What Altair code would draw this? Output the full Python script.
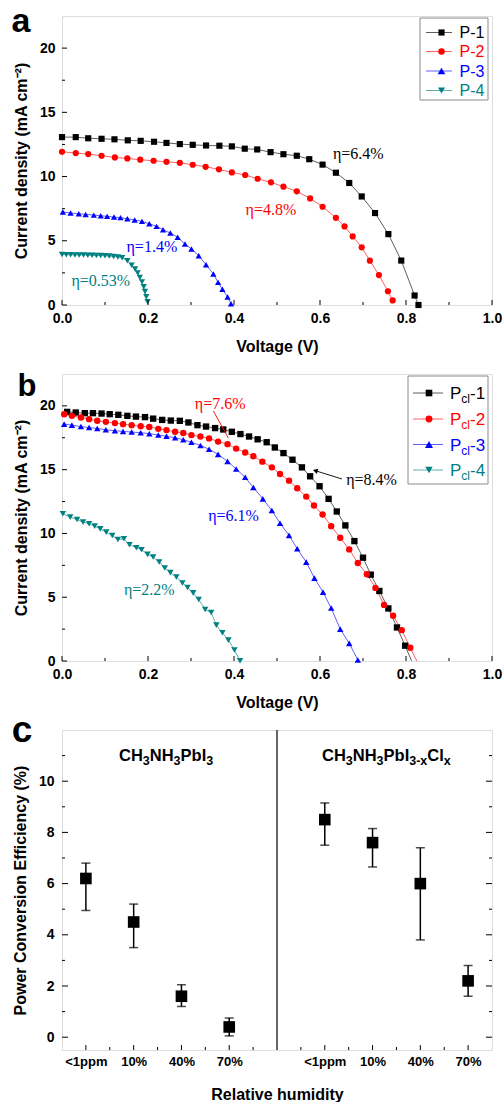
import altair as alt
import pandas as pd

SANS = "Liberation Sans"
SERIF = "Liberation Serif"

# ---------------- data: panel a ----------------
A_NAMES = ["P-1", "P-2", "P-3", "P-4"]
P1_V = [0, 0.032, 0.061, 0.092, 0.122, 0.153, 0.183, 0.214, 0.243, 0.274, 0.304, 0.335, 0.366, 0.395,
        0.425, 0.454, 0.485, 0.515, 0.546, 0.575, 0.606, 0.637, 0.668, 0.697, 0.728, 0.759, 0.789, 0.82, 0.829]
P1_J = [13.07, 13.07, 12.98, 12.94, 12.9, 12.82, 12.78, 12.71, 12.62, 12.53, 12.47, 12.42, 12.4, 12.35,
        12.17, 12.11, 11.9, 11.74, 11.62, 11.35, 10.93, 10.3, 9.5, 8.45, 7.16, 5.52, 3.46, 0.74, 0.0]
P2_V = [0, 0.032, 0.061, 0.092, 0.123, 0.152, 0.182, 0.213, 0.243, 0.274, 0.304, 0.334, 0.365, 0.395,
        0.426, 0.455, 0.486, 0.515, 0.546, 0.577, 0.606, 0.637, 0.657, 0.676, 0.697, 0.716, 0.737, 0.758, 0.769]
P2_J = [11.93, 11.83, 11.75, 11.62, 11.49, 11.41, 11.31, 11.23, 11.15, 11.07, 10.92, 10.76, 10.56, 10.32,
        10.12, 9.83, 9.55, 9.21, 8.85, 8.30, 7.65, 6.79, 6.12, 5.34, 4.49, 3.45, 2.33, 1.07, 0.36]
P3_V = [0.002, 0.020, 0.039, 0.055, 0.074, 0.090, 0.105, 0.121, 0.136, 0.152, 0.169, 0.186, 0.203,
        0.220, 0.235, 0.252, 0.269, 0.286, 0.301, 0.318, 0.335, 0.352, 0.363, 0.373, 0.385, 0.393]
P3_J = [7.24, 7.16, 7.11, 7.05, 7.0, 6.95, 6.9, 6.85, 6.8, 6.72, 6.62, 6.51, 6.33,
        6.12, 5.86, 5.6, 5.27, 4.75, 4.36, 3.84, 3.14, 2.41, 1.76, 1.22, 0.62, 0.1]
P4_V = [0, 0.01, 0.02, 0.03, 0.04, 0.05, 0.06, 0.07, 0.08, 0.09, 0.10, 0.11, 0.12, 0.13, 0.14,
        0.152, 0.162, 0.170, 0.176, 0.181, 0.186, 0.190, 0.193, 0.196, 0.199]
P4_J = [3.93, 3.92, 3.91, 3.9, 3.9, 3.89, 3.88, 3.87, 3.86, 3.85, 3.83, 3.81, 3.78, 3.74, 3.68,
        3.45, 3.1, 2.8, 2.5, 2.15, 1.8, 1.42, 1.05, 0.65, 0.25]
A_ETA = ["η=6.4%", "η=4.8%", "η=1.4%", "η=0.53%"]
A_ETA_V = [0.63, 0.427, 0.15, 0.022]
A_ETA_J = [11.77, 7.42, 4.5, 1.84]

# ---------------- data: panel b ----------------
B_NAMES = ["Pcl-1", "Pcl-2", "Pcl-3", "Pcl-4"]
B_LABEL_NUM = ["-1", "-2", "-3", "-4"]
C1_V = [0.012, 0.032, 0.053, 0.072, 0.092, 0.111, 0.131, 0.152, 0.172, 0.193, 0.212, 0.233, 0.253, 0.274,
        0.294, 0.315, 0.335, 0.356, 0.375, 0.395, 0.415, 0.435, 0.455, 0.476, 0.495, 0.515, 0.536, 0.558,
        0.577, 0.599, 0.620, 0.639, 0.659, 0.680, 0.700, 0.718, 0.738, 0.759, 0.779, 0.798, 0.813]
C1_J = [19.53, 19.48, 19.43, 19.43, 19.40, 19.35, 19.30, 19.22, 19.16, 19.12, 19.00, 18.90, 18.85, 18.83,
        18.70, 18.49, 18.38, 18.26, 18.15, 17.97, 17.79, 17.60, 17.38, 17.15, 16.74, 16.30, 15.78, 15.18,
        14.48, 13.70, 12.71, 11.72, 10.63, 9.40, 8.10, 6.77, 5.49, 4.12, 2.63, 1.20, 0.0]
C2_V = [0.005, 0.023, 0.044, 0.063, 0.082, 0.102, 0.123, 0.142, 0.162, 0.183, 0.203, 0.224, 0.243, 0.263,
        0.282, 0.301, 0.322, 0.342, 0.363, 0.385, 0.405, 0.426, 0.445, 0.466, 0.488, 0.507, 0.528, 0.547,
        0.568, 0.586, 0.606, 0.626, 0.647, 0.668, 0.688, 0.709, 0.729, 0.749, 0.770, 0.790, 0.810, 0.825]
C2_J = [19.35, 19.22, 19.09, 18.96, 18.83, 18.75, 18.65, 18.57, 18.49, 18.40, 18.35, 18.20, 18.10, 17.97,
        17.87, 17.71, 17.60, 17.45, 17.20, 17.00, 16.65, 16.35, 16.05, 15.63, 15.18, 14.66, 14.14, 13.54,
        12.89, 12.19, 11.48, 10.57, 9.66, 8.75, 7.68, 6.80, 5.73, 4.40, 3.55, 2.42, 1.04, 0.0]
C3_V = [0.005, 0.023, 0.044, 0.063, 0.082, 0.102, 0.123, 0.142, 0.162, 0.183, 0.203, 0.224, 0.243, 0.263,
        0.282, 0.301, 0.322, 0.342, 0.363, 0.385, 0.405, 0.426, 0.445, 0.467, 0.488, 0.507, 0.528, 0.547,
        0.568, 0.587, 0.607, 0.626, 0.647, 0.668, 0.688]
C3_J = [18.57, 18.49, 18.38, 18.30, 18.23, 18.13, 18.05, 18.00, 17.95, 17.90, 17.82, 17.72, 17.62, 17.50,
        17.35, 17.15, 16.90, 16.60, 16.20, 15.65, 15.05, 14.40, 13.60, 12.71, 11.80, 10.80, 9.85, 8.80,
        7.75, 6.50, 5.40, 4.15, 2.50, 1.38, 0.08]
C4_V = [0.002, 0.019, 0.035, 0.049, 0.063, 0.076, 0.089, 0.103, 0.117, 0.130, 0.144, 0.157, 0.173, 0.185,
        0.199, 0.212, 0.226, 0.239, 0.252, 0.266, 0.280, 0.292, 0.305, 0.318, 0.333, 0.347, 0.359, 0.373,
        0.387, 0.401, 0.414]
C4_J = [11.54, 11.28, 11.09, 10.89, 10.76, 10.57, 10.36, 10.10, 9.84, 9.53, 9.58, 9.11, 8.88, 8.72,
        8.36, 8.15, 7.76, 7.29, 6.93, 6.59, 6.12, 5.76, 5.34, 4.82, 4.04, 3.80, 2.81, 2.21, 1.64, 0.86, 0.02]
B_ETA = ["η=8.4%", "η=7.6%", "η=6.1%", "η=2.2%"]
B_ETA_V = [0.661, 0.309, 0.34, 0.144]
B_ETA_J = [14.22, 20.13, 11.4, 5.6]
# pointer lines (label -> curve)
B_PTR_V = [0.651, 0.352]
B_PTR_J = [14.27, 19.6]
B_PTR_V2 = [0.589, 0.387]
B_PTR_J2 = [14.92, 17.47]
B_PTR_COL = ["#000000", "#ff0000"]

# ---------------- data: panel c ----------------
HUMIDITY = ["<1ppm", "10%", "40%", "70%"]
PCE_I = [6.2, 4.5, 1.6, 0.4]
LO_I = [4.95, 3.5, 1.2, 0.05]
HI_I = [6.8, 5.2, 2.05, 0.75]
PCE_CL = [8.5, 7.6, 6.0, 2.2]
LO_CL = [7.5, 6.65, 3.8, 1.6]
HI_CL = [9.15, 8.15, 7.4, 2.8]

COLORS = ["#000000", "#ff0000", "#0000ff", "#008080"]
SHAPES = ["square", "circle", "triangle-up", "triangle-down"]
A_SIZES = [38, 42, 60, 50]
B_SIZES = [44, 48, 64, 54]

# ---------------- layout constants ----------------
W = 430
HA, HB, HC = 289, 287, 320
DUMMY = pd.DataFrame({"d": [0]})

W_REG = {"P": .667, "c": .5, "l": .222, "-": .333, "1": .556, "2": .556, "3": .556, "4": .556}
W_BOLD = {"C": .722, "H": .722, "N": .722, "P": .667, "b": .611, "I": .278, "l": .278, "x": .556,
          "3": .556, "-": .333}


def tw(s, fs, bold):
    tab = W_BOLD if bold else W_REG
    return sum(tab.get(ch, 0.55) for ch in s) * fs


def text_runs(runs, x0, y0, fs, sfs, color, bold, shift):
    out = []
    x = x0
    for txt, sub in runs:
        size = sfs if sub else fs
        out.append(alt.Chart(DUMMY).mark_text(
            text=txt, font=SANS, fontSize=size, fontWeight="bold" if bold else "normal",
            color=color, align="left", baseline="alphabetic").encode(
            x=alt.value(x), y=alt.value(y0 + (shift if sub else 0))))
        x += tw(txt, size, bold)
    return out


def letter(ch, x, y, fs):
    return alt.Chart(DUMMY).mark_text(text=ch, font=SANS, fontSize=fs, fontWeight="bold",
                                      color="black", align="center", baseline="alphabetic").encode(
        x=alt.value(x), y=alt.value(y))


def xticks(vals, length, field, scale, axis, H):
    return alt.Chart(pd.DataFrame({field: vals})).mark_rule(color="black", strokeWidth=1).encode(
        x=alt.X(f"{field}:Q", scale=scale, axis=axis), y=alt.value(H), y2=alt.value(H - length))


def yticks(vals, length, field, scale, axis, x0, direction):
    return alt.Chart(pd.DataFrame({field: vals})).mark_rule(color="black", strokeWidth=1).encode(
        y=alt.Y(f"{field}:Q", scale=scale, axis=axis), x=alt.value(x0), x2=alt.value(x0 + direction * length))


AX_COMMON = dict(ticks=False, domain=False, grid=False, labelFont=SANS, labelFontWeight="bold",
                 labelColor="black", labelFlush=False, labelOverlap=False, titleFont=SANS,
                 titleFontSize=16, titleFontWeight="bold", titleColor="black")


def series_df(names, vs, js):
    rows = []
    for n, v, j in zip(names, vs, js):
        for a, b in zip(v, j):
            rows.append({"series": n, "v": a, "j": b})
    return pd.DataFrame(rows)


XS = alt.Scale(domain=[0, 1], nice=False, zero=False)
YS = alt.Scale(domain=[0, 22.5], nice=False, zero=False)
XAX = alt.Axis(title="Voltage (V)", values=[0, 0.2, 0.4, 0.6, 0.8, 1.0], format=".1f",
               labelFontSize=14, labelPadding=6, titlePadding=13, **AX_COMMON)
YAX = alt.Axis(title="Current density (mA cm⁻²)", values=[0, 5, 10, 15, 20], format="d",
               labelFontSize=14, labelPadding=7, titlePadding=10, **AX_COMMON)


def jv_panel(names, vs, js, sizes, H, eta, eta_v, eta_j, legend_layers, letter_layer,
             hide_zero_points=False, extra=()):
    df = series_df(names, vs, js)
    col = alt.Color("series:N", scale=alt.Scale(domain=names, range=COLORS), legend=None)
    X = alt.X("v:Q", scale=XS, axis=XAX)
    Y = alt.Y("j:Q", scale=YS, axis=YAX)
    lines = alt.Chart(df).mark_line(strokeWidth=0.9, opacity=0.7).encode(
        x=X, y=Y, color=col, detail="series:N")
    pts_base = alt.Chart(df)
    if hide_zero_points:
        pts_base = pts_base.transform_filter("datum.j > 0")
    pts = pts_base.mark_point(filled=True, opacity=1, strokeWidth=0).encode(
        x=X, y=Y, color=col,
        shape=alt.Shape("series:N", scale=alt.Scale(domain=names, range=SHAPES), legend=None),
        size=alt.Size("series:N", scale=alt.Scale(domain=names, range=sizes), legend=None))
    edf = pd.DataFrame({"t": eta, "v": eta_v, "j": eta_j, "c": COLORS})
    etas = alt.Chart(edf).mark_text(font=SERIF, fontSize=16, align="left", baseline="middle").encode(
        x=X, y=Y, text="t:N", color=alt.Color("c:N", scale=None))
    tk = [xticks([0, 0.2, 0.4, 0.6, 0.8, 1.0], 5, "v", XS, XAX, H),
          xticks([0.1, 0.3, 0.5, 0.7, 0.9], 3, "v", XS, XAX, H),
          yticks([0, 5, 10, 15, 20], 5, "j", YS, YAX, 0, 1),
          yticks([2.5, 7.5, 12.5, 17.5], 3, "j", YS, YAX, 0, 1)]
    ex = [e(X, Y) for e in extra]
    return alt.layer(lines, pts, etas, *ex, *tk, *legend_layers, letter_layer).properties(width=W, height=H)


def legend(box, rows_y, line_x, mark_x, text_x, label_runs, sizes, fs, sfs):
    x1, x2, y1, y2 = box
    out = [alt.Chart(DUMMY).mark_rect(fill="white", stroke="#8a8a8a", strokeWidth=1).encode(
        x=alt.value(x1), x2=alt.value(x2), y=alt.value(y1), y2=alt.value(y2))]
    for i, runs in enumerate(label_runs):
        y = rows_y[i]
        out.append(alt.Chart(DUMMY).mark_rule(color=COLORS[i], strokeWidth=0.9, opacity=0.7).encode(
            x=alt.value(line_x[0]), x2=alt.value(line_x[1]), y=alt.value(y)))
        out.append(alt.Chart(DUMMY).mark_point(shape=SHAPES[i], filled=True, opacity=1, strokeWidth=0,
                                               color=COLORS[i], size=sizes[i]).encode(
            x=alt.value(mark_x), y=alt.value(y)))
        out += text_runs(runs, text_x, y + fs * 0.36, fs, sfs, COLORS[i], False, 4)
    return out


# ---------------- panel a ----------------
leg_a = legend((358, 426, 2, 84), [16.5, 35.5, 55, 74.5], (364, 390), 379.5, 397.5,
               [[(n, False)] for n in A_NAMES], A_SIZES, 16, 12)
panel_a = jv_panel(A_NAMES, [P1_V, P2_V, P3_V, P4_V], [P1_J, P2_J, P3_J, P4_J], A_SIZES, HA,
                   A_ETA, A_ETA_V, A_ETA_J, leg_a, letter("a", -41, 16, 34))


# ---------------- panel b ----------------
def pointers(X, Y):
    pdf = pd.DataFrame({"v": B_PTR_V, "j": B_PTR_J, "v2": B_PTR_V2, "j2": B_PTR_J2, "c": B_PTR_COL})
    return alt.Chart(pdf).mark_rule(strokeWidth=0.9).encode(
        x=X, y=Y, x2="v2:Q", y2="j2:Q", color=alt.Color("c:N", scale=None))


def arrowhead(X, Y):
    adf = pd.DataFrame({"v": B_PTR_V2[:1], "j": B_PTR_J2[:1]})
    return alt.Chart(adf).mark_point(shape="triangle-up", filled=True, color="black", size=30,
                                     angle=285, opacity=1, strokeWidth=0).encode(x=X, y=Y)


leg_b = legend((346, 426, 2, 110), [19, 45, 70.5, 96], (351, 381), 367, 388,
               [[("P", False), ("cl", True), (n, False)] for n in B_LABEL_NUM], B_SIZES, 17, 12)
panel_b = jv_panel(B_NAMES, [C1_V, C2_V, C3_V, C4_V], [C1_J, C2_J, C3_J, C4_J], B_SIZES, HB,
                   B_ETA, B_ETA_V, B_ETA_J, leg_b, letter("b", -35, 22, 31),
                   hide_zero_points=True, extra=(pointers, arrowhead))

# ---------------- panel c ----------------
n = len(HUMIDITY)
xpos_i = [i + 0.5 for i in range(n)]
xpos_cl = [i + n + 1.5 for i in range(n)]
divider = n + 0.5
xc = alt.Scale(domain=[0, 2 * n + 1], nice=False, zero=False)
yc = alt.Scale(domain=[-0.5, 12], nice=False, zero=False)
cdf = pd.DataFrame({"x": xpos_i + xpos_cl, "pce": PCE_I + PCE_CL, "lo": LO_I + LO_CL, "hi": HI_I + HI_CL})

hum_js = "[" + ",".join("'" + h + "'" for h in HUMIDITY) + "]"
CXA = alt.Axis(title="Relative humidity", values=xpos_i + xpos_cl,
               labelExpr=f"{hum_js}[floor(datum.value) % {n + 1}]",
               labelFontSize=13, labelPadding=5, titlePadding=18, **AX_COMMON)
CYA = alt.Axis(title="Power Conversion Efficiency (%)", values=[0, 2, 4, 6, 8, 10], format="d",
               labelFontSize=14, labelPadding=8, titlePadding=10, **AX_COMMON)
CX = alt.X("x:Q", scale=xc, axis=CXA)

stems = alt.Chart(cdf).mark_rule(color="black", strokeWidth=1.5).encode(
    x=CX, y=alt.Y("lo:Q", scale=yc, axis=CYA), y2="hi:Q")
caps_lo = alt.Chart(cdf).mark_tick(color="black", orient="horizontal", size=9, thickness=1.5).encode(
    x=CX, y=alt.Y("lo:Q", scale=yc, axis=CYA))
caps_hi = alt.Chart(cdf).mark_tick(color="black", orient="horizontal", size=9, thickness=1.5).encode(
    x=CX, y=alt.Y("hi:Q", scale=yc, axis=CYA))
squares = alt.Chart(cdf).mark_point(shape="square", filled=True, color="black", size=135, opacity=1,
                                    strokeWidth=0).encode(
    x=CX, y=alt.Y("pce:Q", scale=yc, axis=CYA))
div_rule = alt.Chart(DUMMY).transform_calculate(x=str(divider)).mark_rule(
    color="#333333", strokeWidth=1.5).encode(x=CX, y=alt.value(0), y2=alt.value(HC))

major_x = xpos_i + xpos_cl
minor_x = [i + 1.0 for i in range(n)] + [i + n + 1.0 for i in range(n)]
tk_c = [xticks(major_x, 5, "x", xc, CXA, HC), xticks(minor_x, 3, "x", xc, CXA, HC),
        yticks([0, 2, 4, 6, 8, 10], 6, "lo", yc, CYA, 0, 1), yticks([1, 3, 5, 7, 9, 11], 3, "lo", yc, CYA, 0, 1),
        yticks([0, 2, 4, 6, 8, 10], 6, "lo", yc, CYA, W, -1), yticks([1, 3, 5, 7, 9, 11], 3, "lo", yc, CYA, W, -1)]

head_i = text_runs([("CH", False), ("3", True), ("NH", False), ("3", True), ("PbI", False), ("3", True)],
                   57, 31, 16.5, 12.5, "black", True, 4)
head_cl = text_runs([("CH", False), ("3", True), ("NH", False), ("3", True), ("PbI", False), ("3-x", True),
                     ("Cl", False), ("x", True)], 260, 31, 16.5, 12.5, "black", True, 4)

panel_c = alt.layer(stems, caps_lo, caps_hi, squares, div_rule, *tk_c, *head_i, *head_cl,
                    letter("c", -40, 12, 37)).properties(width=W, height=HC)

chart = alt.vconcat(panel_a, panel_b, panel_c, spacing=69, bounds="flush").properties(
    padding={"left": 11, "top": 4, "right": 0, "bottom": 0}
).configure_view(stroke="#222222", strokeWidth=1.4).configure(font=SANS, background="white")

chart.save("out.html", embed_options={"renderer": "svg", "actions": False})
